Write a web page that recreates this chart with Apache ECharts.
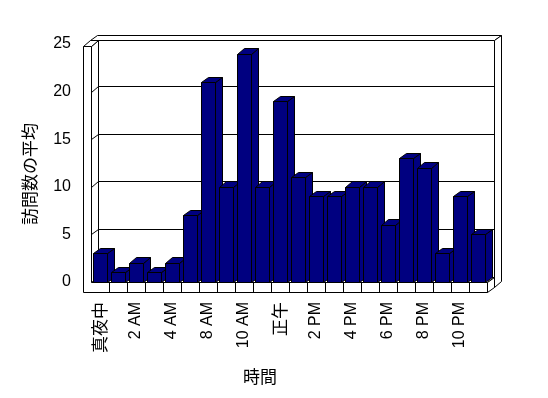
<!DOCTYPE html>
<html><head><meta charset="utf-8">
<script src="https://cdn.jsdelivr.net/npm/echarts@6/dist/echarts.min.js"></script>
<style>html,body{margin:0;padding:0;background:#fff}#c{width:548px;height:398px}</style>
</head><body><div id="c"></div>
<script>
const categories = ['真夜中','1 AM','2 AM','3 AM','4 AM','7 AM','8 AM','9 AM','10 AM','11 AM','正午','1 PM','2 PM','3 PM','4 PM','5 PM','6 PM','7 PM','8 PM','9 PM','10 PM','11 PM'];
const visits = [3,1,2,1,2,7,21,10,24,10,19,11,9,9,10,10,6,13,12,3,9,5];
const gridValues = [5,10,15,20];
const yTitle = '訪問数の平均';
const xTitle = '時間';

const DX = 7, DY = 5.5, FLOOR = 10, WALL = 8;
const LATIN = '"Liberation Sans", Arial, sans-serif';
const CJK = '"Noto Sans CJK JP", sans-serif';
const c = v => Math.round(v) + 0.5;
const P = pts => pts.map(p => [c(p[0]), c(p[1])]);
const lineStyle = {fill:'#fff', stroke:'#000', lineWidth:1};

function frameItem(params, api) {
  const cs = params.coordSys;
  const L = cs.x, R = cs.x + cs.width, T = cs.y, B = cs.y + cs.height;
  const Tw = T + 1.5;
  const ch = [];
  const poly = pts => ch.push({type:'polygon', shape:{points:P(pts)}, style:lineStyle});
  const line = (a,b) => ch.push({type:'line', shape:{x1:c(a[0]),y1:c(a[1]),x2:c(b[0]),y2:c(b[1])}, style:{stroke:'#000', lineWidth:1}});
  // back wall
  poly([[L-WALL+DX,Tw-DY],[R+DX,Tw-DY],[R+DX,B+FLOOR-DY],[L-WALL+DX,B+FLOOR-DY]]);
  poly([[L-WALL+DX,Tw-DY],[R+DX,Tw-DY],[R+2*DX,Tw-2*DY],[L-WALL+2*DX,Tw-2*DY]]);
  poly([[R+DX,Tw-DY],[R+2*DX,Tw-2*DY],[R+2*DX,B+FLOOR-2*DY],[R+DX,B+FLOOR-DY]]);
  gridValues.forEach(v => {
    const y = api.coord([0, v])[1];
    line([L+DX, y-DY], [R+DX, y-DY]);
  });
  // floor
  poly([[L,B],[R,B],[R+DX,B-DY],[L+DX,B-DY]]);
  poly([[R,B],[R+DX,B-DY],[R+DX,B+FLOOR-DY],[R,B+FLOOR]]);
  // left wall
  poly([[L,Tw],[L+DX,Tw-DY],[L+DX,B-DY],[L,B]]);
  gridValues.forEach(v => {
    const y = api.coord([0, v])[1];
    line([L, y], [L+DX, y-DY]);
  });
  poly([[L-WALL,Tw],[L,Tw],[L+DX,Tw-DY],[L-WALL+DX,Tw-DY]]);
  poly([[L-WALL,Tw],[L,Tw],[L,B],[R,B],[R,B+FLOOR],[L-WALL,B+FLOOR]]);
  const bw = api.size([1,0])[0];
  for (let i = 1; i < categories.length; i++) {
    const x = L + i*bw;
    line([x, B], [x, B+FLOOR]);
  }
  return {type:'group', children:ch};
}

function barItem(params, api) {
  const idx = api.value(0), v = api.value(1);
  const top = api.coord([idx, v]), base = api.coord([idx, 0]);
  const bw = api.size([1,0])[0];
  const x0 = top[0] - bw/2 + 1.8, w = bw - 3.4;
  const ty = top[1], by = base[1];
  const st = {fill:'#000080', stroke:'#000', lineWidth:1};
  return {type:'group', children:[
    {type:'polygon', shape:{points:P([[x0+w,ty],[x0+w+DX,ty-DY],[x0+w+DX,by-DY],[x0+w,by]])}, style:st},
    {type:'polygon', shape:{points:P([[x0,ty],[x0+w,ty],[x0+w+DX,ty-DY],[x0+DX,ty-DY]])}, style:st},
    {type:'polygon', shape:{points:P([[x0,ty],[x0+w,ty],[x0+w,by],[x0,by]])}, style:st}
  ]};
}

const chart = echarts.init(document.getElementById('c'), null, {renderer:'canvas'});
chart.setOption({
  backgroundColor:'#fff',
  animation:false,
  grid:{left:91, width:396, top:44, bottom:116, containLabel:false},
  xAxis:{type:'category', data:categories, boundaryGap:true,
    axisLine:{show:false}, axisTick:{show:false}, splitLine:{show:false},
    axisLabel:{rotate:90, interval:1, margin:20, fontSize:16, fontFamily:LATIN, color:'#000',
      formatter: v => /[A-Za-z0-9]/.test(v) ? v : '{j|' + v + '}',
      rich:{j:{fontSize:17, fontFamily:CJK, color:'#000'}}}},
  yAxis:{type:'value', min:0, max:25, interval:5,
    axisLine:{show:false}, axisTick:{show:false}, splitLine:{show:false},
    axisLabel:{margin:20, fontSize:16, fontFamily:LATIN, color:'#000'}},
  graphic:[
    {type:'text', x:30, y:174, rotation:Math.PI/2, style:{text:yTitle, font:'17px ' + CJK, fill:'#000', align:'center', verticalAlign:'middle'}},
    {type:'text', x:260, y:377, style:{text:xTitle, font:'17px ' + CJK, fill:'#000', align:'center', verticalAlign:'middle'}}
  ],
  series:[
    {type:'custom', renderItem:frameItem, data:[[0,0]], z:1, silent:true},
    {type:'custom', renderItem:barItem, data:visits.map((v,i)=>[i,v]), z:2, silent:true}
  ]
});
</script></body></html>
